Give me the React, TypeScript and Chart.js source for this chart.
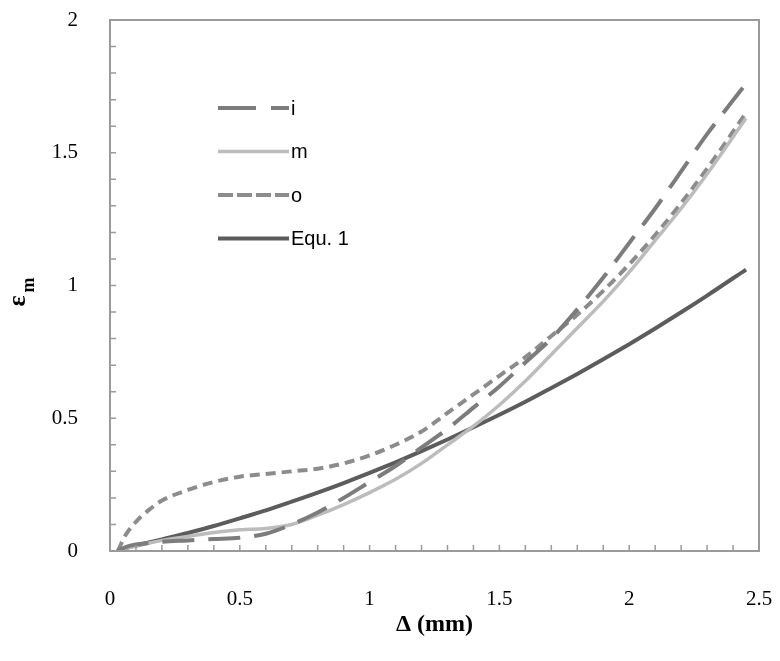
import React, { useEffect, useRef } from "react";
import { Chart, registerables } from "chart.js";

Chart.register(...registerables);

const xs = [0.03, 0.06, 0.1, 0.15, 0.2, 0.3, 0.4, 0.5, 0.6, 0.7, 0.8, 0.9, 1.0, 1.1, 1.2, 1.3, 1.4, 1.5, 1.6, 1.7, 1.8, 1.9, 2.0, 2.1, 2.2, 2.3, 2.45];
const seriesI = [0, 0.015, 0.025, 0.03, 0.035, 0.04, 0.045, 0.05, 0.065, 0.1, 0.145, 0.2, 0.26, 0.32, 0.39, 0.46, 0.54, 0.62, 0.71, 0.8, 0.91, 1.03, 1.16, 1.29, 1.43, 1.57, 1.76];
const seriesM = [0, 0.01, 0.02, 0.03, 0.04, 0.055, 0.07, 0.08, 0.085, 0.1, 0.135, 0.175, 0.22, 0.27, 0.33, 0.4, 0.47, 0.55, 0.64, 0.74, 0.84, 0.94, 1.05, 1.17, 1.29, 1.42, 1.63];
const seriesO = [0, 0.06, 0.11, 0.155, 0.19, 0.23, 0.26, 0.28, 0.29, 0.3, 0.31, 0.33, 0.36, 0.4, 0.45, 0.52, 0.59, 0.66, 0.73, 0.81, 0.89, 0.98, 1.08, 1.19, 1.31, 1.44, 1.65];
const seriesEqu = [0, 0.01, 0.02, 0.032, 0.044, 0.068, 0.094, 0.123, 0.153, 0.186, 0.22, 0.256, 0.294, 0.334, 0.376, 0.42, 0.466, 0.513, 0.562, 0.614, 0.667, 0.722, 0.779, 0.838, 0.899, 0.962, 1.06];

const seriesLabels = ["i", "m", "o", "Equ. 1"];
const xTitle = "Δ (mm)";
const yTitleMain = "ε";
const yTitleSub = "m";

const pts = (ys: number[]) => xs.map((x, k) => ({ x, y: ys[k] }));

const framePlugin = {
  id: "frameTicks",
  afterDraw(chart: any) {
    const ctx = chart.ctx;
    const { left, right, top, bottom } = chart.chartArea;
    const xs_ = chart.scales.x;
    const ys_ = chart.scales.y;
    ctx.save();
    ctx.strokeStyle = "#9a9a9a";
    ctx.lineWidth = 2;
    ctx.strokeRect(left, top, right - left, bottom - top);
    ctx.lineWidth = 1.5;
    ctx.beginPath();
    for (let k = 1; k < 25; k++) {
      const px = xs_.getPixelForValue(k / 10);
      ctx.moveTo(px, bottom);
      ctx.lineTo(px, bottom - 6);
    }
    for (let k = 1; k < 20; k++) {
      const py = ys_.getPixelForValue(k / 10);
      ctx.moveTo(left, py);
      ctx.lineTo(left + 6, py);
    }
    ctx.stroke();

    // legend
    const rows = [108, 151.5, 195, 238.5];
    chart.data.datasets.forEach((ds: any, k: number) => {
      const y = rows[k];
      ctx.beginPath();
      ctx.strokeStyle = ds.borderColor;
      ctx.lineWidth = ds.borderWidth;
      ctx.setLineDash(ds.legendDash || []);
      ctx.lineCap = "butt";
      ctx.moveTo(218, y);
      ctx.lineTo(289, y);
      ctx.stroke();
      ctx.setLineDash([]);
      ctx.fillStyle = "#000";
      ctx.font = "20px 'Liberation Sans', Arial, sans-serif";
      ctx.textAlign = "left";
      ctx.textBaseline = "middle";
      ctx.fillText(ds.label, 291, y + 1);
    });

    // axis titles
    ctx.fillStyle = "#000";
    ctx.font = "bold 24px 'Liberation Serif', 'Times New Roman', serif";
    ctx.textAlign = "center";
    ctx.textBaseline = "middle";
    ctx.fillText(xTitle, (left + right) / 2, 625);

    ctx.translate(24, 293);
    ctx.rotate(-Math.PI / 2);
    ctx.font = "bold 26px 'Liberation Serif', 'Times New Roman', serif";
    ctx.fillText(yTitleMain, -8, -6);
    ctx.font = "bold 18px 'Liberation Serif', 'Times New Roman', serif";
    ctx.fillText(yTitleSub, 8, 5);
    ctx.restore();
  },
};

const noPad = (s: any) => {
  s.paddingLeft = 0;
  s.paddingRight = 0;
  s.paddingTop = 0;
  s.paddingBottom = 0;
};

export default function App() {
  const ref = useRef<HTMLCanvasElement>(null);
  useEffect(() => {
    if (!ref.current) return;
    const chart = new Chart(ref.current, {
      type: "scatter",
      data: {
        datasets: [
          {
            label: seriesLabels[0],
            data: pts(seriesI),
            showLine: true,
            borderColor: "#7c7c7c",
            borderWidth: 4,
            borderDash: [32, 14],
            legendDash: [38, 15],
            pointRadius: 0,
            cubicInterpolationMode: "monotone",
          } as any,
          {
            label: seriesLabels[1],
            data: pts(seriesM),
            showLine: true,
            borderColor: "#bcbcbc",
            borderWidth: 3.5,
            pointRadius: 0,
            cubicInterpolationMode: "monotone",
          } as any,
          {
            label: seriesLabels[2],
            data: pts(seriesO),
            showLine: true,
            borderColor: "#8c8c8c",
            borderWidth: 4,
            borderDash: [10, 6],
            legendDash: [15, 4],
            pointRadius: 0,
            cubicInterpolationMode: "monotone",
          } as any,
          {
            label: seriesLabels[3],
            data: pts(seriesEqu),
            showLine: true,
            borderColor: "#5c5c5c",
            borderWidth: 4,
            pointRadius: 0,
            cubicInterpolationMode: "monotone",
          } as any,
        ],
      },
      options: {
        animation: false,
        responsive: false,
        layout: { padding: { top: 20, right: 21, left: 0, bottom: 0 } },
        plugins: { legend: { display: false }, tooltip: { enabled: false } },
        scales: {
          x: {
            type: "linear",
            min: 0,
            max: 2.5,
            grid: { display: false },
            border: { display: false },
            ticks: {
              stepSize: 0.5,
              padding: 28,
              color: "#000",
              font: { size: 21, family: "'Liberation Serif', 'Times New Roman', serif" },
              maxRotation: 0,
              callback: (v: any) => String(Number(v)),
            },
            afterFit: (s: any) => {
              s.height = 110;
              noPad(s);
            },
          },
          y: {
            type: "linear",
            min: 0,
            max: 2,
            grid: { display: false },
            border: { display: false },
            ticks: {
              stepSize: 0.5,
              padding: 24,
              color: "#000",
              font: { size: 21, family: "'Liberation Serif', 'Times New Roman', serif" },
              callback: (v: any) => String(Number(v)),
            },
            afterFit: (s: any) => {
              s.width = 110;
              noPad(s);
            },
          },
        },
      },
      plugins: [framePlugin],
    });
    return () => chart.destroy();
  }, []);
  return (
    <div style={{ position: "fixed", left: 0, top: 0, width: 780, height: 661, background: "#fff" }}>
      <canvas ref={ref} width={780} height={661} />
    </div>
  );
}
